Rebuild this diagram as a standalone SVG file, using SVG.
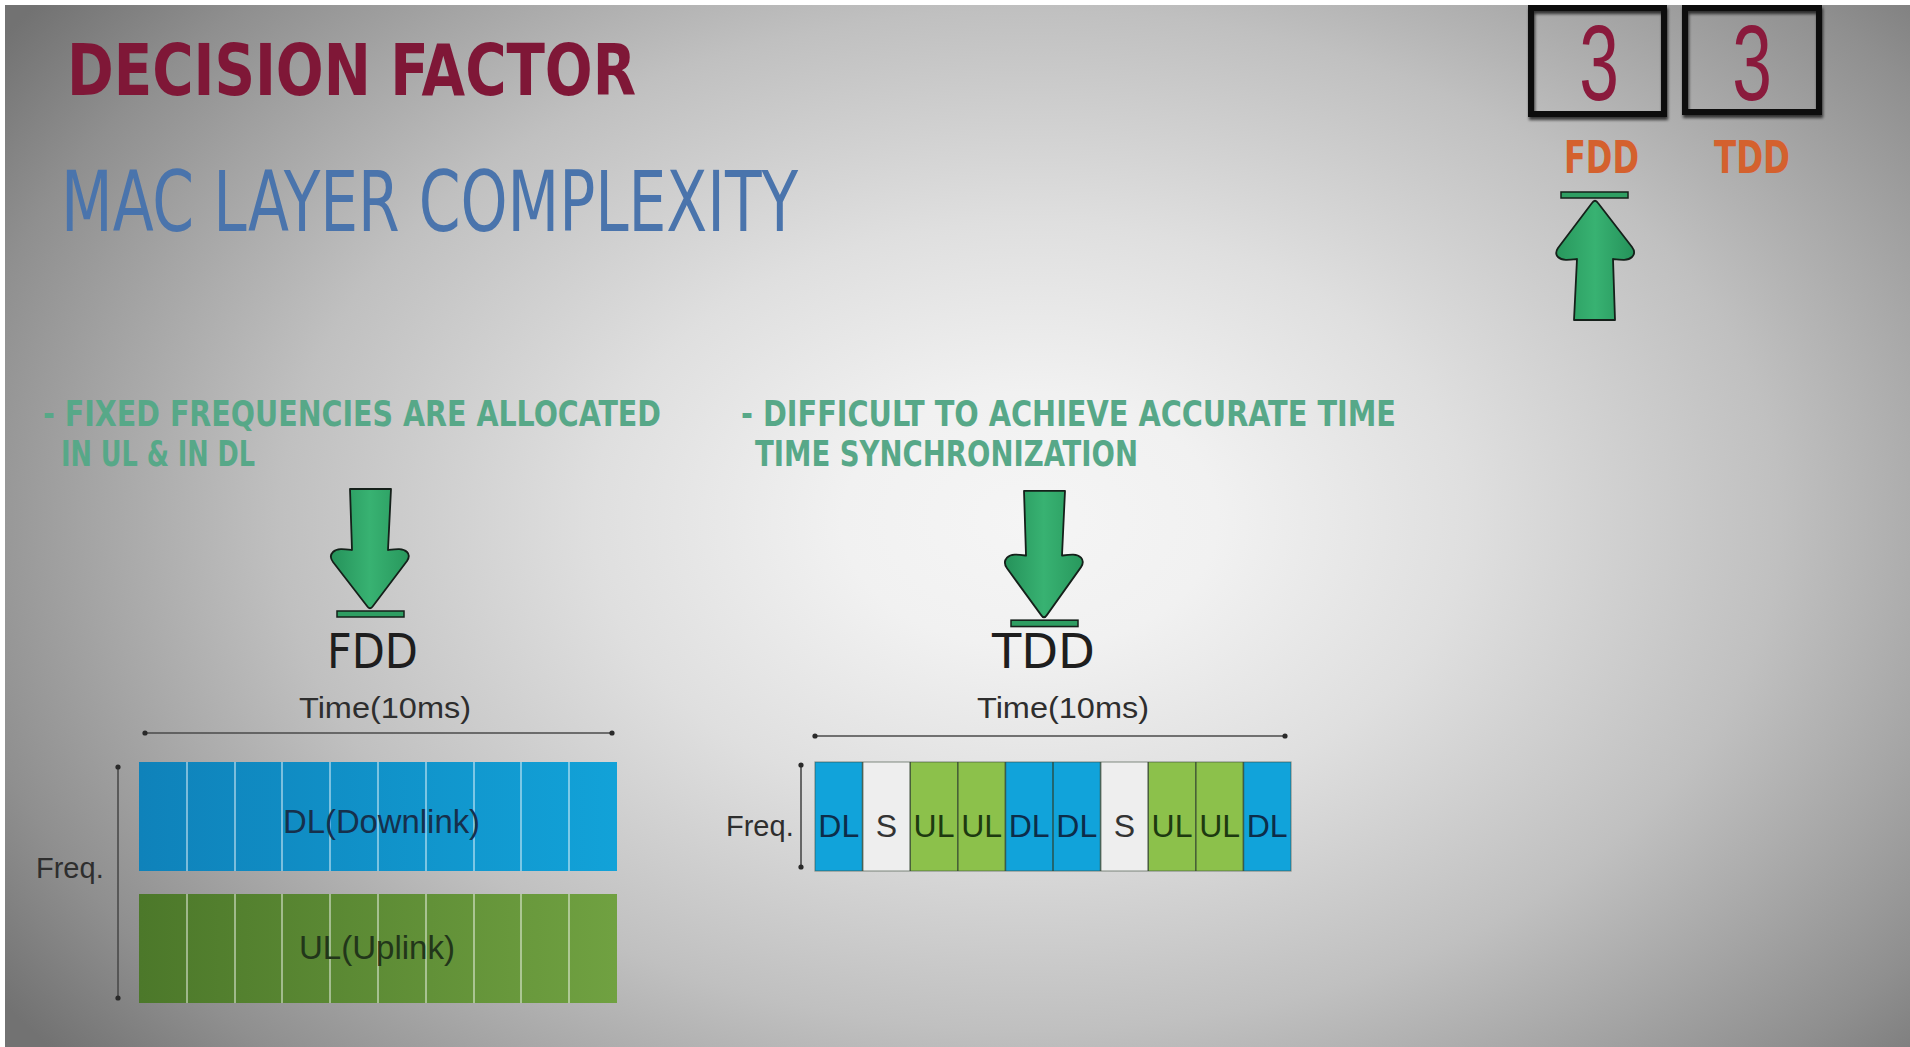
<svg xmlns="http://www.w3.org/2000/svg" xmlns:xlink="http://www.w3.org/1999/xlink" width="1910" height="1047" viewBox="0 0 1910 1047">
  <style>
    .title { font-family: "DejaVu Sans Condensed", "DejaVu Sans", sans-serif; font-weight: bold; fill: #7f1737; }
    .subtitle { font-family: "DejaVu Sans Condensed", "DejaVu Sans", sans-serif; fill: #4a74ac; }
    .bullet { font-family: "DejaVu Sans Condensed", "DejaVu Sans", sans-serif; font-weight: bold; font-size: 36px; fill: #57a888; }
    .score { font-family: "Liberation Sans", Arial, sans-serif; font-size: 108px; fill: #8a1a3c; }
    .scoreLabel { font-family: "DejaVu Sans Condensed", "DejaVu Sans", sans-serif; font-weight: bold; font-size: 44px; fill: #d4612e; }
    .mode { font-family: "DejaVu Sans", sans-serif; font-size: 48px; fill: #1e1e1e; }
    .axisLabel { font-family: "Liberation Sans", Arial, sans-serif; font-size: 29px; fill: #2e2e2e; }
    .band { font-family: "Liberation Sans", Arial, sans-serif; font-size: 33px; }
    .cell { font-family: "Liberation Sans", Arial, sans-serif; font-size: 32px; text-anchor: middle; }
    .box { fill: none; stroke: #0c0c0c; stroke-width: 6; }
    .axis { stroke: #4a4a4a; stroke-width: 1.6; fill: none; }
    .slot { stroke: #ffffff; stroke-opacity: 0.45; stroke-width: 2; }
    .dl { fill: #11a3da; }
    .ul { fill: #8cc14b; }
    .sp { fill: #eeeeee; }
    .edge { fill: none; stroke: #2e3f2a; stroke-opacity: 0.75; stroke-width: 1.6; }
  </style>
  <defs>
    <radialGradient id="bg" gradientUnits="userSpaceOnUse" cx="1030" cy="520" r="1000"
                    gradientTransform="translate(1030 520) scale(1.25 0.85) translate(-1030 -520)">
      <stop offset="0" stop-color="#f5f5f5"/>
      <stop offset="0.15" stop-color="#f1f1f1"/>
      <stop offset="0.35" stop-color="#dfdfdf"/>
      <stop offset="0.6" stop-color="#c0c0c0"/>
      <stop offset="0.75" stop-color="#a5a5a5"/>
      <stop offset="0.87" stop-color="#8f8f8f"/>
      <stop offset="1" stop-color="#727272"/>
    </radialGradient>
    <linearGradient id="arrowFill" x1="0" y1="0" x2="1" y2="0">
      <stop offset="0" stop-color="#25925a"/>
      <stop offset="0.5" stop-color="#38b272"/>
      <stop offset="1" stop-color="#28985d"/>
    </linearGradient>
    <linearGradient id="dlFill" x1="0" y1="0" x2="1" y2="0">
      <stop offset="0" stop-color="#0f82ba"/>
      <stop offset="1" stop-color="#12a2d8"/>
    </linearGradient>
    <linearGradient id="ulFill" x1="0" y1="0" x2="1" y2="0">
      <stop offset="0" stop-color="#4c782a"/>
      <stop offset="1" stop-color="#70a141"/>
    </linearGradient>
    <filter id="boxShadow" x="-10%" y="-10%" width="120%" height="125%">
      <feDropShadow dx="1" dy="3" stdDeviation="1.5" flood-color="#000" flood-opacity="0.7"/>
    </filter>
    <marker id="dot" viewBox="0 0 6 6" refX="3" refY="3" markerWidth="6" markerHeight="6" markerUnits="userSpaceOnUse">
      <circle cx="3" cy="3" r="2.6" fill="#2a2a2a"/>
    </marker>
    <!-- green arrow pointing down onto a bar; tip at the origin -->
    <g id="pointer">
      <path d="M-20,-119 L21,-119 L18,-58 C26,-59 33,-60 37,-56 C40,-53 39,-50 37,-47 L3,-2 C1,1 -1,1 -3,-2 L-37,-46 C-40,-50 -40,-53 -37,-56 C-33,-60 -26,-59 -18,-58 Z"
            fill="url(#arrowFill)" stroke="#15201a" stroke-width="1.8" stroke-linejoin="round"/>
      <rect x="-33" y="3" width="67" height="6" fill="#2e9e62" stroke="#15201a" stroke-width="1.5"/>
    </g>
  </defs>

  <!-- backdrop -->
  <rect x="0" y="0" width="1910" height="1047" fill="url(#bg)"/>
  <rect x="0" y="0" width="1910" height="5" fill="#ffffff"/>
  <rect x="0" y="0" width="5" height="1047" fill="#ffffff"/>

  <!-- headings -->
  <g id="heading">
    <text class="title" x="67" y="95" font-size="72" textLength="569" lengthAdjust="spacingAndGlyphs">DECISION FACTOR</text>
    <text class="subtitle" x="61" y="231" font-size="84" textLength="737" lengthAdjust="spacingAndGlyphs">MAC LAYER COMPLEXITY</text>
  </g>

  <!-- score boxes -->
  <g id="score-fdd">
    <rect class="box" x="1531" y="8" width="133" height="106" filter="url(#boxShadow)"/>
    <text class="score" transform="translate(1599 100) scale(0.66 1)" text-anchor="middle">3</text>
    <text class="scoreLabel" x="1564" y="173" textLength="75" lengthAdjust="spacingAndGlyphs">FDD</text>
  </g>
  <g id="score-tdd">
    <rect class="box" x="1685" y="8" width="134" height="104" filter="url(#boxShadow)"/>
    <text class="score" transform="translate(1752 100) scale(0.66 1)" text-anchor="middle">3</text>
    <text class="scoreLabel" x="1714" y="173" textLength="76" lengthAdjust="spacingAndGlyphs">TDD</text>
  </g>
  <g id="winner-arrow">
    <use xlink:href="#pointer" href="#pointer" transform="translate(1595 201) rotate(180)"/>
  </g>

  <!-- bullet points -->
  <g id="fdd-note">
    <text class="bullet" x="43" y="426" textLength="618" lengthAdjust="spacingAndGlyphs">- FIXED FREQUENCIES ARE ALLOCATED</text>
    <text class="bullet" x="61" y="466" textLength="194" lengthAdjust="spacingAndGlyphs">IN UL &amp; IN DL</text>
  </g>
  <g id="tdd-note">
    <text class="bullet" x="741" y="426" textLength="655" lengthAdjust="spacingAndGlyphs">- DIFFICULT TO ACHIEVE ACCURATE TIME</text>
    <text class="bullet" x="755" y="466" textLength="383" lengthAdjust="spacingAndGlyphs">TIME SYNCHRONIZATION</text>
  </g>

  <!-- mode markers -->
  <g id="fdd-mode">
    <use xlink:href="#pointer" href="#pointer" transform="translate(370 608)"/>
    <text class="mode" x="327" y="668" textLength="91" lengthAdjust="spacingAndGlyphs">FDD</text>
  </g>
  <g id="tdd-mode">
    <use xlink:href="#pointer" href="#pointer" transform="translate(1044 617) scale(1 1.06)"/>
    <text class="mode" x="992" y="668" textLength="103" lengthAdjust="spacingAndGlyphs">TDD</text>
  </g>

  <!-- FDD frame: separate downlink and uplink bands -->
  <g id="fdd-frame">
    <text class="axisLabel" x="299" y="718" textLength="172" lengthAdjust="spacingAndGlyphs">Time(10ms)</text>
    <text class="axisLabel" x="36" y="878" font-size="28">Freq.</text>
    <rect x="139" y="762" width="478" height="109" fill="url(#dlFill)"/>
    <rect x="139" y="894" width="478" height="109" fill="url(#ulFill)"/>
    <g class="slot">
      <path d="M187,762V871 M235,762V871 M282,762V871 M330,762V871 M378,762V871 M426,762V871 M474,762V871 M521,762V871 M569,762V871"/>
      <path d="M187,894V1003 M235,894V1003 M282,894V1003 M330,894V1003 M378,894V1003 M426,894V1003 M474,894V1003 M521,894V1003 M569,894V1003"/>
    </g>
    <text class="band" x="283" y="833" fill="#16304c" textLength="197" lengthAdjust="spacingAndGlyphs">DL(Downlink)</text>
    <text class="band" x="299" y="959" fill="#22361a" textLength="156" lengthAdjust="spacingAndGlyphs">UL(Uplink)</text>
  </g>

  <!-- TDD frame: one band split into time slots -->
  <g id="tdd-frame">
    <text class="axisLabel" x="977" y="718" textLength="172" lengthAdjust="spacingAndGlyphs">Time(10ms)</text>
    <text class="axisLabel" x="726" y="836" font-size="28">Freq.</text>
    <rect class="dl" x="815" y="762" width="47.6" height="109"/>
    <rect class="sp" x="862.6" y="762" width="47.6" height="109"/>
    <rect class="ul" x="910.2" y="762" width="47.6" height="109"/>
    <rect class="ul" x="957.8" y="762" width="47.6" height="109"/>
    <rect class="dl" x="1005.4" y="762" width="47.6" height="109"/>
    <rect class="dl" x="1053" y="762" width="47.6" height="109"/>
    <rect class="sp" x="1100.6" y="762" width="47.6" height="109"/>
    <rect class="ul" x="1148.2" y="762" width="47.6" height="109"/>
    <rect class="ul" x="1195.8" y="762" width="47.6" height="109"/>
    <rect class="dl" x="1243.4" y="762" width="47.6" height="109"/>
    <path class="edge" d="M862.6,762V871 M910.2,762V871 M957.8,762V871 M1005.4,762V871 M1053,762V871 M1100.6,762V871 M1148.2,762V871 M1195.8,762V871 M1243.4,762V871"/>
    <rect x="815" y="762" width="476" height="109" fill="none" stroke="#3a4a3a" stroke-opacity="0.5" stroke-width="1.2"/>
    <text class="cell" x="838.8" y="837" fill="#0c2d4a">DL</text>
    <text class="cell" x="886.4" y="837" fill="#333333">S</text>
    <text class="cell" x="934" y="837" fill="#1d3a10">UL</text>
    <text class="cell" x="981.6" y="837" fill="#1d3a10">UL</text>
    <text class="cell" x="1029.2" y="837" fill="#0c2d4a">DL</text>
    <text class="cell" x="1076.8" y="837" fill="#0c2d4a">DL</text>
    <text class="cell" x="1124.4" y="837" fill="#333333">S</text>
    <text class="cell" x="1172" y="837" fill="#1d3a10">UL</text>
    <text class="cell" x="1219.6" y="837" fill="#1d3a10">UL</text>
    <text class="cell" x="1267.2" y="837" fill="#0c2d4a">DL</text>
  </g>

  <!-- time and frequency axes -->
  <g id="connectors">
    <line class="axis" x1="145" y1="733" x2="612" y2="733" marker-start="url(#dot)" marker-end="url(#dot)"/>
    <line class="axis" x1="118" y1="767" x2="118" y2="998" marker-start="url(#dot)" marker-end="url(#dot)"/>
    <line class="axis" x1="815" y1="736" x2="1285" y2="736" marker-start="url(#dot)" marker-end="url(#dot)"/>
    <line class="axis" x1="801" y1="765" x2="801" y2="867" marker-start="url(#dot)" marker-end="url(#dot)"/>
  </g>
</svg>
